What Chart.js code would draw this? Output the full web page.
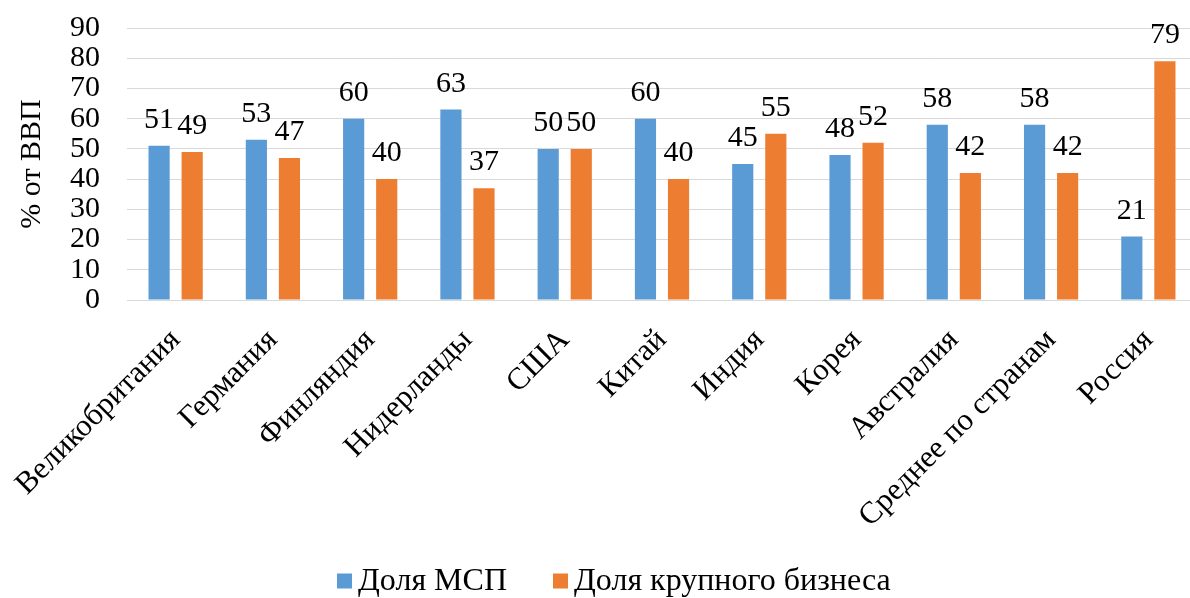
<!DOCTYPE html>
<html>
<head>
<meta charset="utf-8">
<script src="https://cdn.jsdelivr.net/npm/chart.js@4"></script>
<style>
  html, body { margin: 0; padding: 0; background: #fff; overflow: hidden; }
  #wrap { width: 1190px; height: 598px; overflow: hidden; }
</style>
</head>
<body>
<div id="wrap"><canvas id="chart" width="1197" height="598"></canvas></div>
<script>
const countries = ['Великобритания', 'Германия', 'Финляндия', 'Нидерланды', 'США', 'Китай', 'Индия', 'Корея', 'Австралия', 'Среднее по странам', 'Россия'];
const smeShare = [51, 53, 60, 63, 50, 60, 45, 48, 58, 58, 21];
const bigShare = [49, 47, 40, 37, 50, 40, 55, 52, 42, 42, 79];
const seriesNames = ['Доля МСП', 'Доля крупного бизнеса'];

const serif = "'Liberation Serif', 'Times New Roman', serif";

// numbers above the bars
const valueLabels = {
  id: 'valueLabels',
  afterDatasetsDraw(chart) {
    const ctx = chart.ctx;
    ctx.save();
    ctx.font = '30px ' + serif;
    ctx.fillStyle = '#000';
    ctx.textAlign = 'center';
    ctx.textBaseline = 'alphabetic';
    chart.data.datasets.forEach((ds, i) => {
      chart.getDatasetMeta(i).data.forEach((bar, j) => {
        ctx.fillText(ds.data[j], bar.x, bar.y - 18);
      });
    });
    ctx.restore();
  }
};

// legend like the office one: small square, text right after it
const bottomLegend = {
  id: 'bottomLegend',
  afterDraw(chart) {
    const ctx = chart.ctx;
    const box = 15, cy = 581;
    let x = 337;
    ctx.save();
    ctx.font = '32px ' + serif;
    ctx.textBaseline = 'middle';
    ctx.textAlign = 'left';
    chart.data.datasets.forEach(ds => {
      ctx.fillStyle = ds.backgroundColor;
      ctx.fillRect(x, cy - box / 2, box, box);
      x += box + 6;
      ctx.fillStyle = '#000';
      ctx.fillText(ds.label, x, cy + 1);
      x += ctx.measureText(ds.label).width + 46;
    });
    ctx.restore();
  }
};

new Chart(document.getElementById('chart'), {
  type: 'bar',
  data: {
    labels: countries,
    datasets: [
      { label: seriesNames[0], data: smeShare, backgroundColor: '#5B9BD5' },
      { label: seriesNames[1], data: bigShare, backgroundColor: '#ED7D31' }
    ]
  },
  options: {
    responsive: false,
    animation: false,
    layout: { padding: { top: 28, right: 0, left: 0, bottom: 50 } },
    datasets: { bar: { categoryPercentage: 0.68, barPercentage: 0.64 } },
    scales: {
      x: {
        grid: { display: false },
        border: { color: '#D9D9D9' },
        ticks: {
          color: '#000',
          font: { family: serif, size: 31 },
          maxRotation: 45,
          minRotation: 45,
          autoSkip: false,
          padding: 14
        },
        afterFit(scale) { scale.height = 248; }
      },
      y: {
        min: 0,
        max: 90,
        ticks: {
          stepSize: 10,
          autoSkip: false,
          color: '#000',
          font: { family: serif, size: 30 },
          padding: 27
        },
        grid: { color: '#D9D9D9', drawTicks: false },
        border: { display: false },
        title: {
          display: true,
          text: '% от ВВП',
          color: '#000',
          font: { family: serif, size: 30 },
          padding: { top: 14, bottom: 0 }
        },
        afterFit(scale) {
          scale.width = 127;
          // top label may stick out above the plot, as in the original
          scale.paddingTop = 0;
          scale.paddingBottom = 0;
        }
      }
    },
    plugins: {
      legend: { display: false },
      tooltip: { enabled: false }
    }
  },
  plugins: [valueLabels, bottomLegend]
});
</script>
</body>
</html>
